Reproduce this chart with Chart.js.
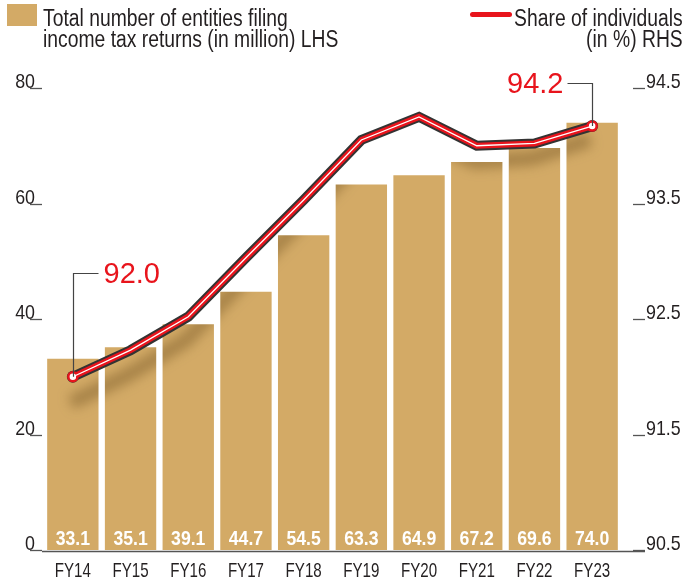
<!DOCTYPE html>
<html>
<head>
<meta charset="utf-8">
<script src="https://cdn.jsdelivr.net/npm/chart.js@4.4.1/dist/chart.umd.min.js"></script>
<style>
  body { margin: 0; background: #fff; }
  #wrap { position: relative; width: 685px; height: 581px; font-family: "Liberation Sans", Arial, sans-serif; color: #231f20; }
  #chart { position: absolute; left: 0; top: 0; }
  .swatch-bar { position: absolute; left: 7px; top: 4px; width: 30px; height: 22px; background: #d3aa66; }
  .swatch-line { position: absolute; left: 470px; top: 12px; width: 42px; height: 5px; border-radius: 3px; background: #e8141c; }
  .legend-text { position: absolute; top: 8px; font-size: 23px; line-height: 21px; white-space: nowrap; }
  .legend-text div { transform: scaleX(0.84); }
  #leg-left { left: 43px; }
  #leg-left div { transform-origin: left center; }
  #leg-right { right: 2px; text-align: right; }
  #leg-right div { transform-origin: right center; }
</style>
</head>
<body>
<div id="wrap">
  <canvas id="chart" width="685" height="581"></canvas>
  <div class="swatch-bar"></div>
  <div class="legend-text" id="leg-left"><div>Total number of entities filing</div><div>income tax returns (in million) LHS</div></div>
  <div class="swatch-line"></div>
  <div class="legend-text" id="leg-right"><div>Share of individuals</div><div>(in %) RHS</div></div>
</div>
<script>
const years = ["FY14", "FY15", "FY16", "FY17", "FY18", "FY19", "FY20", "FY21", "FY22", "FY23"];
const entities = [33.1, 35.1, 39.1, 44.7, 54.5, 63.3, 64.9, 67.2, 69.6, 74.0];
const shareIndividuals = [92.0, 92.23, 92.52, 93.03, 93.53, 94.05, 94.25, 94.0, 94.02, 94.17];
const shareLabels = ["92.0", "", "", "", "", "", "", "", "", "94.2"];
const leftTicks = [0, 20, 40, 60, 80];
const rightTicks = [90.5, 91.5, 92.5, 93.5, 94.5];

const FONT = '"Liberation Sans", Arial, sans-serif';
const BAR = "#d3aa66";
const RED = "#e8141c";
const INK = "#231f20";
const last = years.length - 1;

function endPoint(ctx) {
    return ctx.dataIndex === 0 || ctx.dataIndex === last;
}

// no condensed face installed, so squeeze the regular one
function narrowText(c, txt, x, y, align, font, color, sx) {
    c.save();
    c.font = font;
    c.fillStyle = color;
    c.textAlign = align;
    c.textBaseline = "alphabetic";
    c.translate(x, y);
    c.scale(sx, 1);
    c.fillText(txt, 0, 0);
    c.restore();
}

// shadow of the line, only visible on top of the bars
const barShadow = {
    id: "barShadow",
    afterDatasetDraw(chart, args) {
        if (args.index !== 0) return;
        const pts = chart.getDatasetMeta(2).data;
        const c = chart.ctx;
        c.save();
        c.globalCompositeOperation = "source-atop";
        c.filter = "blur(6px)";
        c.strokeStyle = "rgba(110,80,30,0.45)";
        c.lineWidth = 14;
        c.lineJoin = "round";
        c.beginPath();
        pts.forEach((p, i) => {
            const dy = 26 - i * 1.4;
            if (i === 0) c.moveTo(p.x - 2, p.y + dy);
            else c.lineTo(p.x - 2, p.y + dy);
        });
        c.stroke();
        c.restore();
    }
};

const decorations = {
    id: "decorations",
    afterDatasetsDraw(chart) {
        const c = chart.ctx;
        const area = chart.chartArea;
        const yl = chart.scales.y;
        const yr = chart.scales.y1;
        const xs = chart.scales.x;

        c.save();
        c.strokeStyle = "#555";
        c.lineWidth = 1.3;
        // tick marks and tick labels
        leftTicks.forEach(v => {
            const y = Math.round(yl.getPixelForValue(v)) + 0.5;
            c.beginPath(); c.moveTo(area.left - 14, y); c.lineTo(area.left - 2, y); c.stroke();
            narrowText(c, String(v), area.left - 9, y - 1, "right", "21px " + FONT, INK, 0.85);
        });
        rightTicks.forEach(v => {
            const y = Math.round(yr.getPixelForValue(v)) + 0.5;
            c.beginPath(); c.moveTo(area.right + 12, y); c.lineTo(area.right + 24, y); c.stroke();
            narrowText(c, v.toFixed(1), area.right + 25, y - 1, "left", "21px " + FONT, INK, 0.85);
        });
        // baseline
        c.beginPath();
        c.moveTo(area.left - 2, area.bottom + 1.5);
        c.lineTo(area.right + 24, area.bottom + 1.5);
        c.stroke();

        years.forEach((yr, i) => {
            narrowText(c, yr, xs.getPixelForValue(i), area.bottom + 27, "center", "21px " + FONT, INK, 0.72);
        });

        // value labels at the foot of the bars
        chart.getDatasetMeta(0).data.forEach((bar, i) => {
            narrowText(c, entities[i].toFixed(1), bar.x, area.bottom - 5, "center", "bold 21px " + FONT, "#fff", 0.84);
        });

        // callouts for first and last share
        const pts = chart.getDatasetMeta(2).data;
        c.strokeStyle = "#444";
        c.lineWidth = 1.2;
        c.fillStyle = RED;
        c.font = "29px " + FONT;
        c.textBaseline = "middle";

        const p0 = pts[0];
        const x0 = Math.round(p0.x) + 0.5;
        const h0 = Math.round(p0.y - 104) + 0.5;
        c.beginPath(); c.moveTo(x0, p0.y); c.lineTo(x0, h0); c.lineTo(x0 + 25, h0); c.stroke();
        c.textAlign = "left";
        c.fillText(shareLabels[0], x0 + 30, h0 + 1);

        const p1 = pts[last];
        const x1 = Math.round(p1.x) + 0.5;
        const h1 = Math.round(p1.y - 43) + 0.5;
        c.beginPath(); c.moveTo(x1, p1.y); c.lineTo(x1, h1); c.lineTo(x1 - 25, h1); c.stroke();
        c.textAlign = "right";
        c.fillText(shareLabels[last], x1 - 29, h1 + 1);
        c.restore();
    }
};

new Chart(document.getElementById("chart"), {
    data: {
        labels: years,
        datasets: [
            {
                type: "bar",
                data: entities,
                backgroundColor: BAR,
                barPercentage: 0.89,
                categoryPercentage: 1,
                yAxisID: "y",
                order: 10
            },
            {
                type: "line",
                data: shareIndividuals,
                yAxisID: "y1",
                borderColor: "#333",
                borderWidth: 10,
                borderJoinStyle: "miter",
                tension: 0,
                pointRadius: ctx => endPoint(ctx) ? 6 : 0,
                pointBackgroundColor: "#333",
                pointBorderWidth: 0,
                order: 3
            },
            {
                type: "line",
                data: shareIndividuals,
                yAxisID: "y1",
                borderColor: RED,
                borderWidth: 6,
                borderJoinStyle: "miter",
                tension: 0,
                pointRadius: ctx => endPoint(ctx) ? 4.5 : 0,
                pointBackgroundColor: "#fff",
                pointBorderColor: RED,
                pointBorderWidth: 2.5,
                order: 2
            },
            {
                type: "line",
                data: shareIndividuals,
                yAxisID: "y1",
                borderColor: "#fff",
                borderWidth: 1.3,
                borderJoinStyle: "miter",
                tension: 0,
                pointRadius: 0,
                order: 1
            }
        ]
    },
    options: {
        responsive: false,
        animation: false,
        events: [],
        layout: { padding: { top: 88, left: 0, right: 0, bottom: 0 } },
        plugins: { legend: { display: false }, tooltip: { enabled: false } },
        scales: {
            x: {
                grid: { display: false },
                border: { display: false },
                ticks: { display: false },
                afterFit: s => { s.height = 31; }
            },
            y: {
                position: "left",
                min: 0,
                max: 80,
                grid: { display: false },
                border: { display: false },
                afterBuildTicks: s => { s.ticks = leftTicks.map(v => ({ value: v })); },
                ticks: { display: false },
                afterFit: s => { s.width = 44; }
            },
            y1: {
                position: "right",
                min: 90.5,
                max: 94.5,
                grid: { display: false },
                border: { display: false },
                afterBuildTicks: s => { s.ticks = rightTicks.map(v => ({ value: v })); },
                ticks: { display: false },
                afterFit: s => { s.width = 64; }
            }
        }
    },
    plugins: [barShadow, decorations]
});
</script>
</body>
</html>
